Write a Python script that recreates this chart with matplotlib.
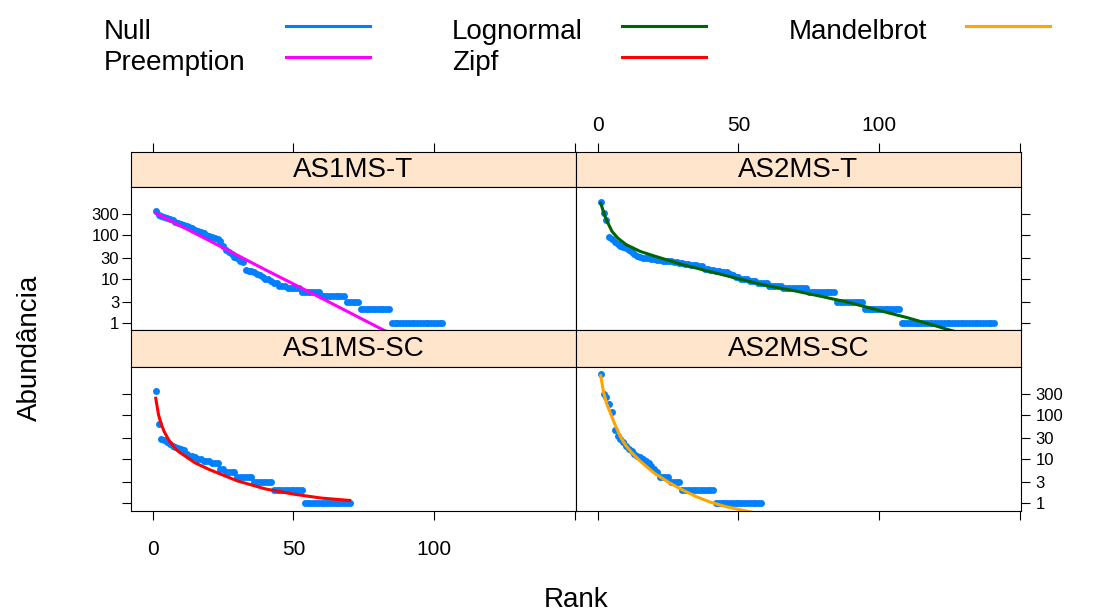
import matplotlib
matplotlib.use('Agg')
import matplotlib.pyplot as plt
from matplotlib.lines import Line2D
from matplotlib.ticker import NullLocator

plt.rcParams['font.family'] = ['Liberation Sans', 'DejaVu Sans']

# observed abundances (rank ordered), one list per sample
as1t = [350, 285, 270, 260, 240, 230, 215, 200, 190, 180,
        170, 160, 150, 140, 130, 120, 115, 110, 100, 95,
        90, 85, 80, 72, 55, 45, 40, 36, 32, 29,
        26, 24, 16, 15, 15, 14, 13, 12, 11, 10,
        10, 9, 8, 8, 7, 7, 7, 6, 6, 6, 6, 6] + [5] * 7 + [4] * 9 + [3] * 5 + [2] * 11 + [1] * 19
as2t = [570, 310, 220, 90, 80, 70, 62, 55, 52, 50, 46,
        40, 36, 33, 31, 30, 29,
        29, 28, 28, 27, 27, 26, 26, 25, 25,
        24, 24, 23, 23, 22, 22, 21, 21, 21, 20, 20,
        17, 17, 16, 16, 15, 15, 14, 14, 14, 13,
        12, 11, 11, 10, 10, 10, 9, 9, 9, 8, 8,
        8, 8, 7, 7, 7, 7, 7] + [6] * 9 + [5] * 10 + [3] * 10 + [2] * 13 + [1] * 34
as1sc = [350, 64, 28, 27, 25, 22, 20, 19, 18, 17, 16,
         13, 12, 12, 11, 10, 10, 9, 9, 9, 8, 8, 8,
         6, 6, 5, 5, 5, 5] + [4] * 6 + [3] * 7 + [2] * 11 + [1] * 17
as2sc = [870, 300, 250, 180, 116, 45, 34, 28, 24, 20, 17, 15, 13, 12, 11, 10, 9, 8, 7, 6, 5,
         4, 4, 4, 4, 3, 3, 3, 3] + [2] * 12 + [1] * 17

# fitted models
pre_rank = [1, 20, 40, 60, 80, 103]
pre_val = [311, 74, 16, 3.6, 0.79, 0.14]
logn_rank = [1, 2, 3, 5, 7, 10, 15, 20, 30, 40, 50, 60, 70, 80, 90, 100, 110, 120, 130, 141]
logn_val = [525, 330, 220, 120, 85, 60, 42, 33, 21, 14.5, 10, 7, 5.3, 3.9, 2.8, 1.9, 1.3, 0.85, 0.55, 0.35]
zipf_rank = [1, 2, 3, 4, 5, 6, 7, 8, 9, 10, 15, 20, 30, 40, 50, 60, 70]
zipf_val = [240, 101, 61, 42, 32, 25, 21, 17, 15, 13.5, 8.2, 5.8, 3.2, 2.1, 1.6, 1.3, 1.15]
mandel_rank = [1, 2, 3, 4, 5, 6, 7, 8, 9, 10, 12, 15, 20, 25, 30, 35, 40, 45, 50, 55, 58]
mandel_val = [780, 330, 190, 130, 90, 62, 45, 32, 25, 20, 14, 9, 4.8, 3.0, 2.0, 1.4, 1.05, 0.85, 0.72, 0.62, 0.57]

x_ticks = [0, 50, 100, 150]
x_labels = ['0', '50', '100', '']
y_ticks = [1, 3, 10, 30, 100, 300]
y_labels = ['1', '3', '10', '30', '100', '300']

legend_names = ['Null', 'Preemption', 'Lognormal', 'Zipf', 'Mandelbrot']
legend_cols = ['#0080FF', '#FF00FF', '#006400', '#FF0000', '#FFA500']

W, H = 1093, 615
fig = plt.figure(figsize=(W / 100, H / 100), dpi=100)


def box(x0, y0, x1, y1):
    return [x0 / W, 1 - y1 / H, (x1 - x0) / W, (y1 - y0) / H]


cols = [(131, 576), (576, 1021)]
rows = [(152, 186.5, 330), (330, 366.5, 510.5)]
xlim = (-7.8, 150.5)
ylim = (0.68, 1260)

panels = [
    ('AS1MS-T', as1t, pre_rank, pre_val, '#FF00FF', 0, 0),
    ('AS2MS-T', as2t, logn_rank, logn_val, '#006400', 0, 1),
    ('AS1MS-SC', as1sc, zipf_rank, zipf_val, '#FF0000', 1, 0),
    ('AS2MS-SC', as2sc, mandel_rank, mandel_val, '#FFA500', 1, 1),
]

tick_kw = dict(length=6.5, width=0.8, color='black', direction='out')

for name, obs, fr, fv, col, r, c in panels:
    c0, c1 = cols[c]
    s0, p0, p1 = rows[r]

    sx = fig.add_axes(box(c0, s0, c1, p0))
    sx.set_facecolor('#FFE5CC')
    sx.set_xlim(xlim)
    sx.set_yticks([])
    sx.text(0.5, 0.47, name, transform=sx.transAxes, ha='center', va='center', fontsize=20)
    if r == 0:
        sx.xaxis.tick_top()
        sx.set_xticks(x_ticks, x_labels if c == 1 else [''] * 4)
        sx.tick_params(axis='x', labelsize=15, pad=6, **tick_kw)
    else:
        sx.set_xticks([])

    ax = fig.add_axes(box(c0, p0, c1, p1))
    ranks = list(range(1, len(obs) + 1))
    ax.plot(ranks, obs, 'o', color='#0080FF', ms=5, mew=0)
    ax.plot(fr, fv, color=col, lw=2.2)
    ax.set_yscale('log')
    ax.set_xlim(xlim)
    ax.set_ylim(ylim)
    ax.yaxis.set_minor_locator(NullLocator())

    if r == 1:
        ax.set_xticks(x_ticks, x_labels if c == 0 else [''] * 4)
        ax.tick_params(axis='x', labelsize=15, pad=15, **tick_kw)
    else:
        ax.set_xticks([])

    if c == 0:
        ax.set_yticks(y_ticks, y_labels if r == 0 else [''] * 6)
        ax.tick_params(axis='y', labelsize=12, pad=2, left=True, right=False, **tick_kw)
    else:
        ax.yaxis.tick_right()
        ax.set_yticks(y_ticks, y_labels if r == 1 else [''] * 6)
        ax.tick_params(axis='y', labelsize=12, pad=4, **tick_kw)

    for a in (sx, ax):
        for sp in a.spines.values():
            sp.set_linewidth(0.8)
            sp.set_color('black')

# legend on top
leg_text_x = [104, 104, 452, 452, 789]
leg_line_x = [(286, 370), (286, 370), (622, 706), (622, 706), (966, 1050)]
leg_base_y = [38.7, 69.7, 38.7, 69.7, 38.7]
leg_line_y = [26.3, 57.3, 26.3, 57.3, 26.3]
for i, name in enumerate(legend_names):
    fig.text(leg_text_x[i] / W, 1 - leg_base_y[i] / H, name, fontsize=20, va='baseline', ha='left')
    x0, x1 = leg_line_x[i]
    y = 1 - leg_line_y[i] / H
    fig.add_artist(Line2D([x0 / W, x1 / W], [y, y], color=legend_cols[i], lw=2.2,
                          transform=fig.transFigure))

fig.text(576 / W, 1 - 600 / H, 'Rank', fontsize=20, ha='center', va='center')
fig.text(30 / W, 1 - 348 / H, 'Abundância', fontsize=20, ha='center', va='center', rotation=90)

fig.savefig('out.png', dpi=100)
